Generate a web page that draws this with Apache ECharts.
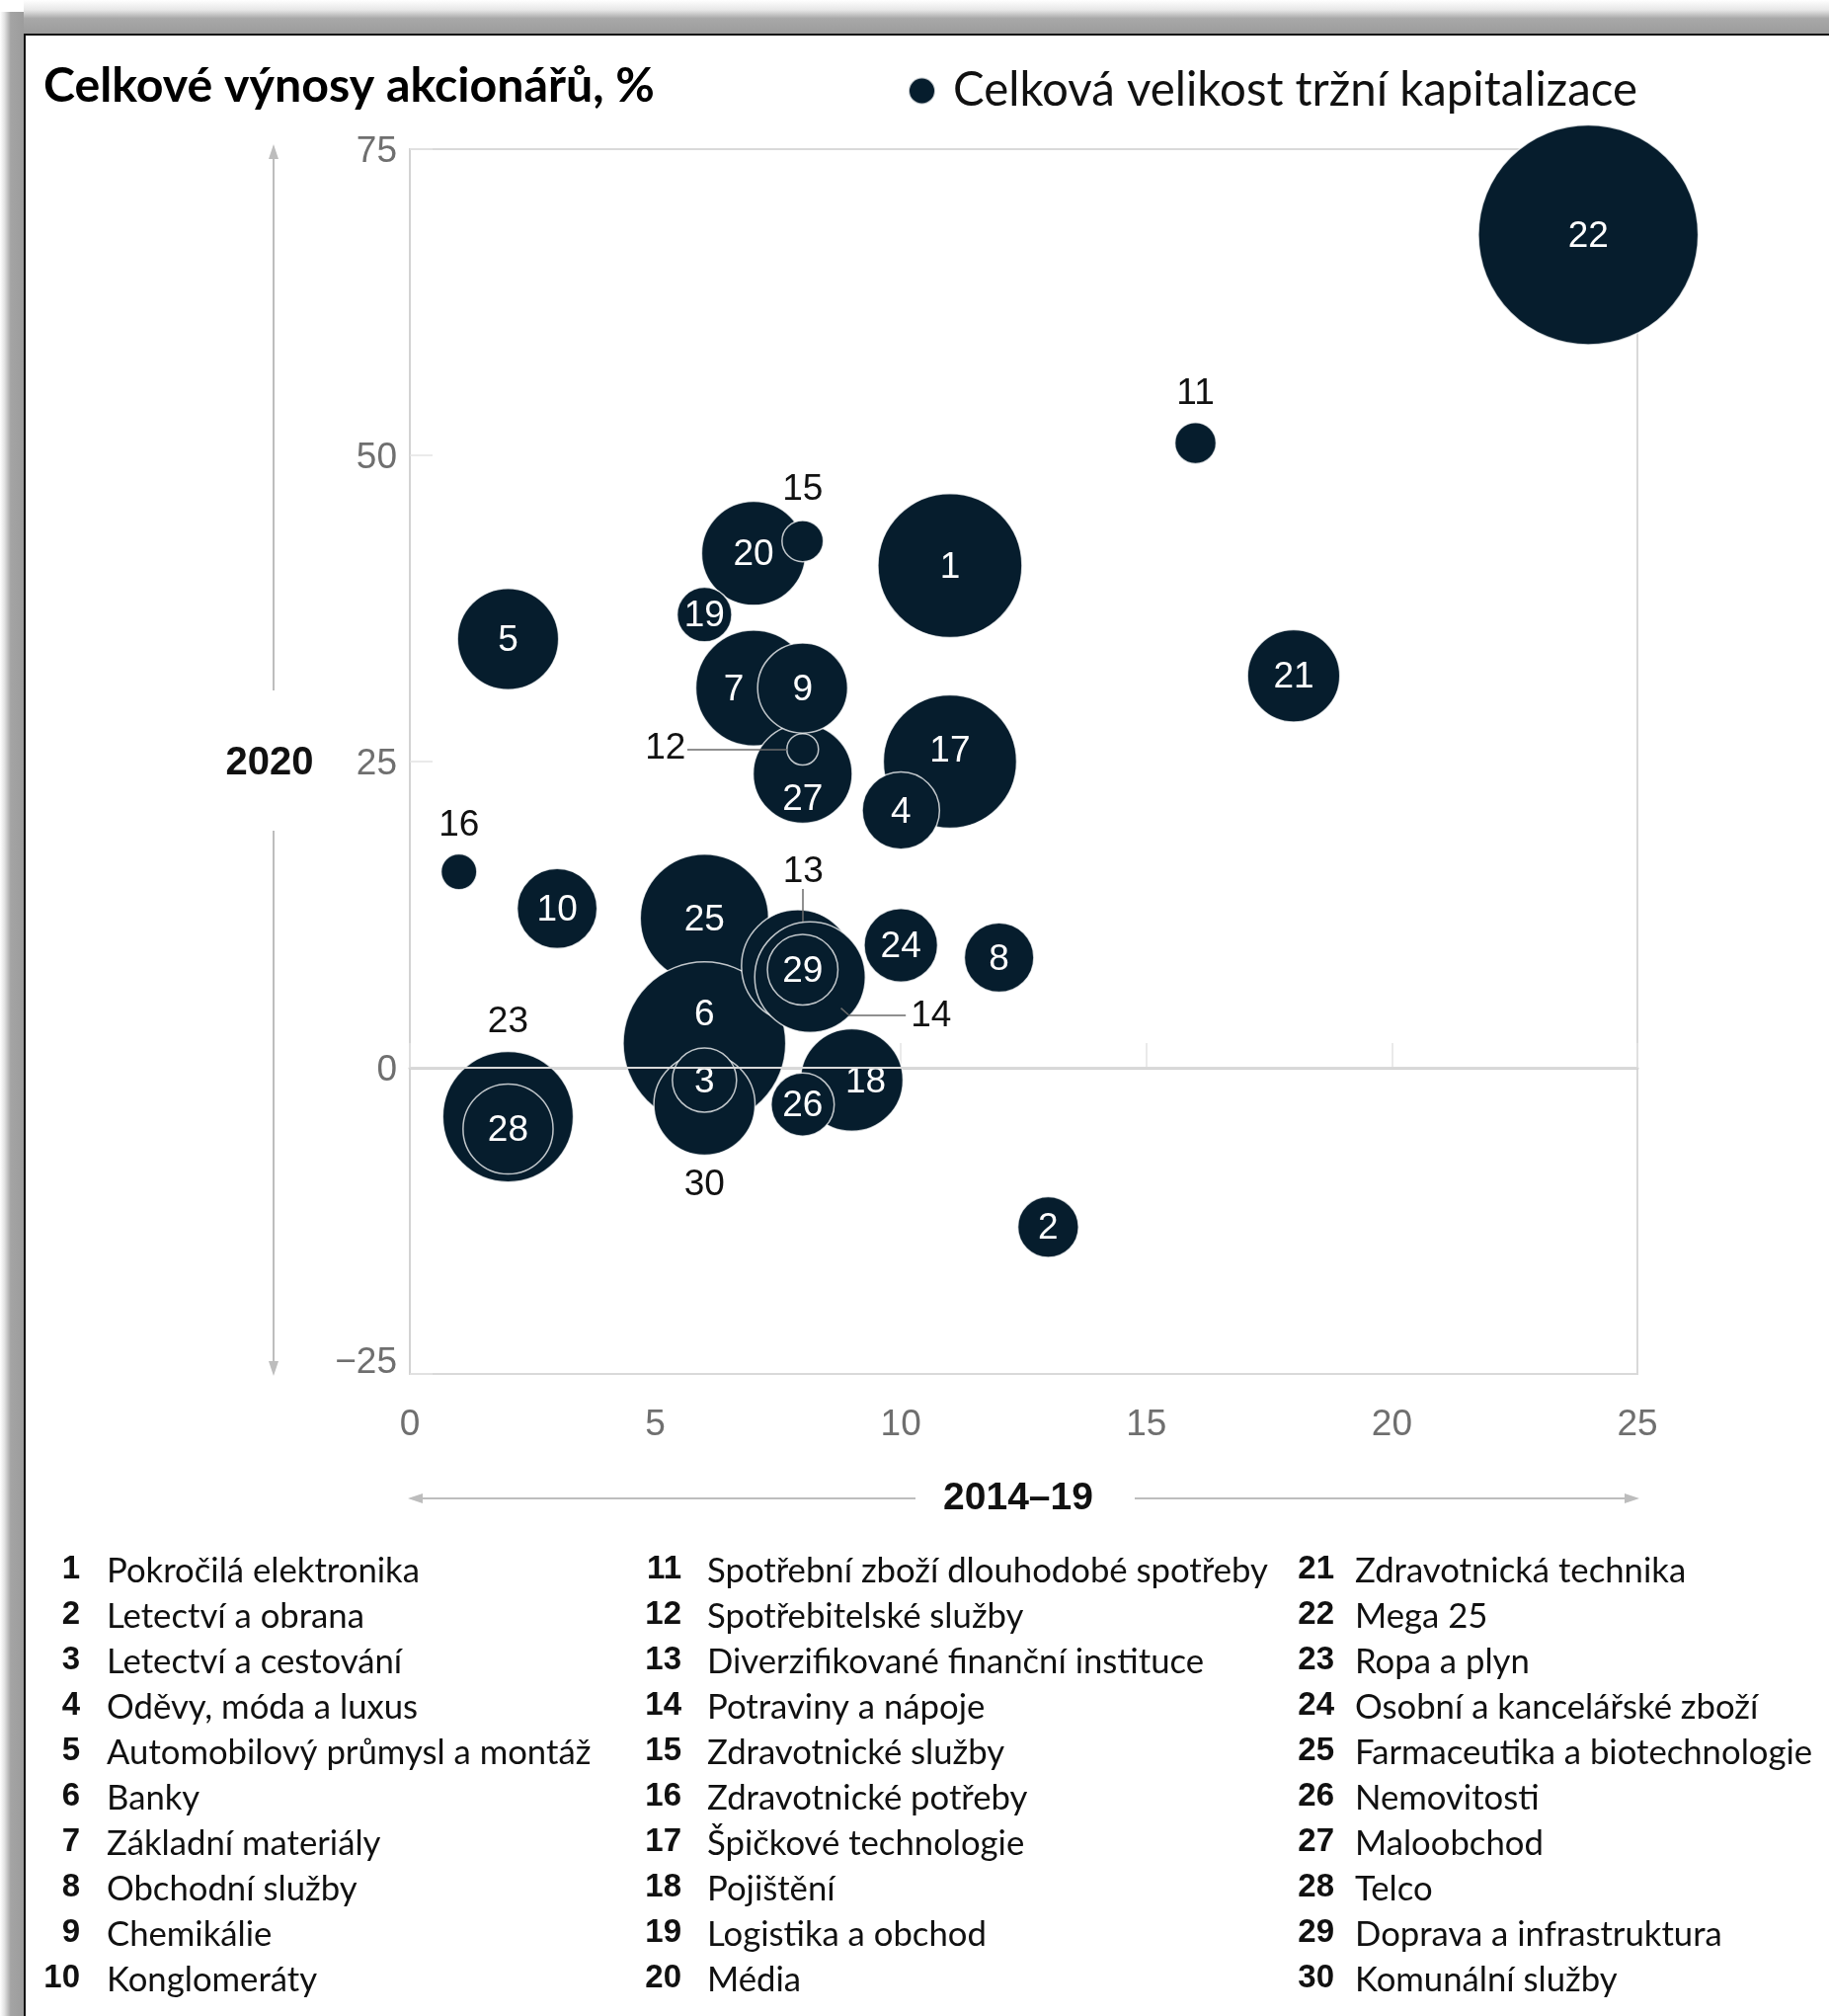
<!DOCTYPE html>
<html>
<head>
<meta charset="utf-8">
<script src="https://cdn.jsdelivr.net/npm/echarts@6/dist/echarts.min.js"></script>
<style>
html, body { margin: 0; padding: 0; background: #fff; }
#chart { width: 1852px; height: 2041px; }
</style>
</head>
<body>
<div id="chart"></div>
<script>
// odvětví (čísla a názvy)
var ids = [1, 2, 3, 4, 5, 6, 7, 8, 9, 10, 11, 12, 13, 14, 15, 16, 17, 18, 19, 20, 21, 22, 23, 24, 25, 26, 27, 28, 29, 30];
var sectorNames = [
    'Pokročilá elektronika', 'Letectví a obrana', 'Letectví a cestování', 'Oděvy, móda a luxus',
    'Automobilový průmysl a montáž', 'Banky', 'Základní materiály', 'Obchodní služby', 'Chemikálie',
    'Konglomeráty', 'Spotřební zboží dlouhodobé spotřeby', 'Spotřebitelské služby',
    'Diverzifikované finanční instituce', 'Potraviny a nápoje', 'Zdravotnické služby',
    'Zdravotnické potřeby', 'Špičkové technologie', 'Pojištění', 'Logistika a obchod', 'Média',
    'Zdravotnická technika', 'Mega 25', 'Ropa a plyn', 'Osobní a kancelářské zboží',
    'Farmaceutika a biotechnologie', 'Nemovitosti', 'Maloobchod', 'Telco', 'Doprava a infrastruktura',
    'Komunální služby'
];

// celkové výnosy akcionářů, %
var tsr1419 = [11, 13, 6, 10, 2, 6, 7, 12, 8, 3, 16, 8, 8.15, 7.9, 8, 1, 11, 9, 6, 7, 18, 24, 2, 10, 6, 8, 8, 2, 8, 6];
var tsr2020 = [41, -13, -1, 21, 35, 2, 31, 9, 31, 13, 51, 26, 7.4, 8.3, 43, 16, 25, -1, 37, 42, 32, 68, -4, 10, 12.2, -3, 24, -5, 8, -3];
// velikost tržní kapitalizace (relativní)
var marketCap = [7.3, 1.3, 1.45, 2.1, 3.6, 9.3, 4.7, 1.7, 2.85, 2.25, 0.6, 0.35, 4.3, 4.45, 0.6, 0.45, 6.25, 3.7, 1.05, 3.8,
    3.0, 17.0, 6.0, 1.9, 5.8, 1.4, 3.45, 2.85, 1.75, 3.6];

var xTicks = [0, 5, 10, 15, 20, 25];
var yTicks = [-25, 0, 25, 50, 75];

// vodicí čáry k popiskům (v jednotkách os)
var leaderLines = [
    [[5.65, 26], [7.68, 26]],
    [[8, 14.6], [8, 11.94]],
    [[8.78, 4.87], [8.93, 4.33]],
    [[8.93, 4.33], [10.1, 4.33]]
];

// pořadí kreslení (zespodu nahoru)
var drawOrder = [22, 1, 17, 25, 6, 23, 7, 18, 20, 30, 5, 27, 14, 13, 21, 9, 10, 4, 24, 8, 28, 3, 26, 29, 2, 19, 11, 15, 16, 12];

// popisky mimo bublinu / posunuté
var labelStyle = {
    11: {outside: true, offset: [0, -50]},
    15: {outside: true, offset: [0, -52]},
    16: {outside: true, offset: [0, -47]},
    23: {outside: true, offset: [0, -96]},
    30: {outside: true, offset: [0, 82]},
    13: {outside: true, offset: [-7, -106]},
    12: {outside: true, offset: [-139, -1]},
    14: {outside: true, offset: [135, 51]},
    6: {offset: [0, -28]},
    7: {offset: [-20, 2]},
    27: {offset: [0, 26]},
    17: {offset: [0, -10]},
    18: {offset: [14, 2]}
};

var SERIES_NAME = 'Celková velikost tržní kapitalizace';
var CAP_TO_PX = 54;
var GRID = {left: 415, top: 151, right: 1658, bottom: 1391};

var myChart = echarts.init(document.getElementById('chart'));

var bubbleData = drawOrder.map(function (id) {
    var i = id - 1;
    var item = {
        name: sectorNames[i],
        value: [tsr1419[i], tsr2020[i], marketCap[i], ids[i]]
    };
    var s = labelStyle[id];
    if (s) {
        item.label = {offset: s.offset, color: s.outside ? '#111' : '#fff'};
    }
    return item;
});

// legenda s názvy odvětví
var listItems = [];
var colNumRight = [81, 690, 1351];
var colText = [108, 716, 1372];
ids.forEach(function (id, i) {
    var col = Math.floor(i / 10), row = i % 10;
    var y = 1589 + row * 46;
    listItems.push({
        type: 'text',
        style: {
            text: String(id), x: colNumRight[col], y: y,
            textAlign: 'right', textVerticalAlign: 'middle', align: 'right', verticalAlign: 'middle',
            fontFamily: 'Liberation Sans', fontWeight: 'bold', fontSize: 33, fill: '#111'
        }
    });
    listItems.push({
        type: 'text',
        style: {
            text: sectorNames[i], x: colText[col], y: y + 2,
            textAlign: 'left', textVerticalAlign: 'middle', align: 'left', verticalAlign: 'middle',
            fontFamily: 'Lato', fontSize: 34.7, fill: '#111'
        }
    });
});

var arrowColor = '#bdbdbd';
var decor = [
    // rámeček
    {type: 'rect', shape: {x: 0, y: 0, width: 1852, height: 34},
        style: {fill: new echarts.graphic.LinearGradient(0, 0, 0, 1, [
            {offset: 0, color: '#ffffff'}, {offset: 0.3, color: '#e6e6e6'},
            {offset: 0.55, color: '#a8a8a8'}, {offset: 1, color: '#9c9c9c'}])}},
    {type: 'rect', shape: {x: 0, y: 0, width: 24, height: 2041},
        style: {fill: new echarts.graphic.LinearGradient(0, 0, 1, 0, [
            {offset: 0, color: '#ffffff'}, {offset: 0.2, color: '#e0e0e0'},
            {offset: 0.45, color: '#a4a4a4'}, {offset: 1, color: '#9c9c9c'}])}},
    {type: 'rect', shape: {x: 0, y: 0, width: 24, height: 12}, style: {fill: '#fff'}},
    {type: 'rect', shape: {x: 24, y: 34, width: 1828, height: 2}, style: {fill: '#111'}},
    {type: 'rect', shape: {x: 24, y: 34, width: 2, height: 2007}, style: {fill: '#111'}},
    // šipky os
    {type: 'line', shape: {x1: 277, y1: 158, x2: 277, y2: 699}, style: {stroke: arrowColor, lineWidth: 2}},
    {type: 'line', shape: {x1: 277, y1: 841, x2: 277, y2: 1381}, style: {stroke: arrowColor, lineWidth: 2}},
    {type: 'polygon', shape: {points: [[277, 146], [272, 161], [282, 161]]}, style: {fill: arrowColor}},
    {type: 'polygon', shape: {points: [[277, 1393], [272, 1378], [282, 1378]]}, style: {fill: arrowColor}},
    {type: 'line', shape: {x1: 425, y1: 1517, x2: 927, y2: 1517}, style: {stroke: arrowColor, lineWidth: 2}},
    {type: 'line', shape: {x1: 1149, y1: 1517, x2: 1648, y2: 1517}, style: {stroke: arrowColor, lineWidth: 2}},
    {type: 'polygon', shape: {points: [[413, 1517], [428, 1512], [428, 1522]]}, style: {fill: arrowColor}},
    {type: 'polygon', shape: {points: [[1660, 1517], [1645, 1512], [1645, 1522]]}, style: {fill: arrowColor}},
    // názvy os
    {type: 'text', style: {text: '2020', x: 273, y: 773, textAlign: 'center', textVerticalAlign: 'middle',
        align: 'center', verticalAlign: 'middle',
        fontFamily: 'Liberation Sans', fontWeight: 'bold', fontSize: 40, fill: '#111'}},
    {type: 'text', style: {text: '2014–19', x: 1031, y: 1517, textAlign: 'center', textVerticalAlign: 'middle',
        align: 'center', verticalAlign: 'middle',
        fontFamily: 'Liberation Sans', fontWeight: 'bold', fontSize: 39, fill: '#111'}}
];

option = {
    animation: false,
    backgroundColor: '#fff',
    title: {
        text: 'Celkové výnosy akcionářů, %',
        left: 44,
        top: 63,
        padding: 0,
        textStyle: {fontFamily: 'Lato', fontWeight: 'bold', fontSize: 48.3, color: '#000'}
    },
    legend: {
        data: [SERIES_NAME],
        left: 919,
        top: 66,
        padding: 0,
        icon: 'circle',
        itemWidth: 27,
        itemHeight: 27,
        selectedMode: false,
        textStyle: {fontFamily: 'Lato', fontSize: 47.4, color: '#111', padding: [0, 0, 0, 13], lineHeight: 52}
    },
    grid: {
        left: GRID.left,
        top: GRID.top,
        right: 1852 - GRID.right,
        bottom: 2041 - GRID.bottom,
        show: true,
        borderColor: '#d9d9d9',
        borderWidth: 2,
        backgroundColor: 'transparent'
    },
    xAxis: {
        type: 'value',
        min: xTicks[0],
        max: xTicks[xTicks.length - 1],
        interval: 5,
        axisLine: {show: true, lineStyle: {color: '#d3d3d3', width: 3}},
        axisTick: {show: true, inside: true, length: 25, lineStyle: {color: '#e3e3e3', width: 1.5}},
        splitLine: {show: false},
        axisLabel: {margin: 33, fontFamily: 'Liberation Sans', fontSize: 37, color: '#6f6f6f'}
    },
    yAxis: {
        type: 'value',
        min: yTicks[0],
        max: yTicks[yTicks.length - 1],
        interval: 25,
        axisLine: {show: true, lineStyle: {color: '#d3d3d3', width: 2}},
        axisTick: {show: true, inside: true, length: 23, lineStyle: {color: '#e3e3e3', width: 1.5}},
        splitLine: {show: false},
        axisLabel: {
            margin: 13, fontFamily: 'Liberation Sans', fontSize: 37, color: '#6f6f6f',
            formatter: function (v) {
                return v < 0 ? '{low|\u2212' + Math.abs(v) + '}' : '{std|' + v + '}';
            },
            rich: {
                std: {fontFamily: 'Liberation Sans', fontSize: 37, color: '#6f6f6f', padding: [5, 0, 0, 0]},
                low: {fontFamily: 'Liberation Sans', fontSize: 37, color: '#6f6f6f', padding: [0, 0, 22, 0]}
            }
        }
    },
    graphic: decor.concat(listItems),
    series: [
        {
            type: 'scatter',
            name: 'nula',
            z: 1,
            silent: true,
            data: [],
            markLine: {
                silent: true,
                symbol: ['none', 'none'],
                label: {show: false},
                lineStyle: {color: '#d9d9d9', width: 2, type: 'solid'},
                data: [{yAxis: 0}]
            }
        },
        {
            type: 'scatter',
            name: SERIES_NAME,
            z: 2,
            data: bubbleData,
            symbolSize: function (v) { return CAP_TO_PX * Math.sqrt(v[2]); },
            itemStyle: {color: '#061d2d', opacity: 1, borderColor: 'rgba(255,255,255,0.75)', borderWidth: 1.5},
            label: {
                show: true,
                position: 'inside',
                offset: [0, 2],
                formatter: function (p) { return p.value[3]; },
                fontFamily: 'Liberation Sans',
                fontSize: 37,
                color: '#fff'
            },
            emphasis: {disabled: true}
        },
        {
            type: 'scatter',
            name: 'vodítka',
            z: 3,
            silent: true,
            data: [],
            markLine: {
                silent: true,
                symbol: ['none', 'none'],
                label: {show: false},
                lineStyle: {color: '#6b6b6b', width: 1.5, type: 'solid'},
                data: leaderLines.map(function (seg) {
                    return [{coord: seg[0]}, {coord: seg[1]}];
                })
            }
        }
    ]
};

myChart.setOption(option);
</script>
</body>
</html>
